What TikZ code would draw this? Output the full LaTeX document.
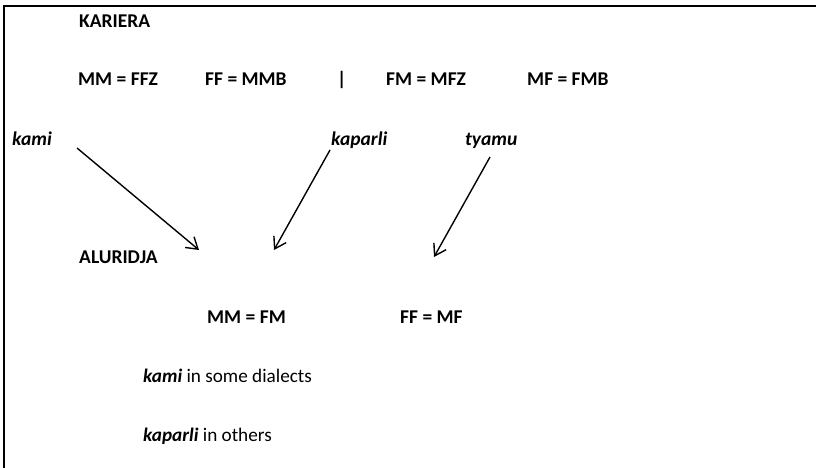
\documentclass[tikz,border=0pt]{standalone}
\usepackage{fontspec}
\setmainfont{Carlito}
\usetikzlibrary{arrows.meta}
\begin{document}
\begin{tikzpicture}[x=1pt,y=-1pt,
  lbl/.style={anchor=base west,inner sep=0pt,font=\fontsize{19.5}{22}\selectfont\bfseries},
  term/.style={anchor=base west,inner sep=0pt,font=\fontsize{19.5}{22}\selectfont\bfseries\itshape},
  note/.style={anchor=base west,inner sep=0pt,font=\fontsize{19.2}{22}\selectfont},
  arr/.style={line width=1.4pt,-{Straight Barb[length=11pt,width=14pt,line width=1.4pt]}}]
\useasboundingbox (0,0) rectangle (816,468);
% frame: top and left rules
\draw[line width=1.5pt] (816,6) -- (4,6) -- (4,468);

% Kariera equations
\node[lbl] (kariera) at (79,28) {KARIERA};
\node[lbl] (mmffz) at (78,86) {MM = FFZ};
\node[lbl] (ffmmb) at (205,86) {FF = MMB};
\node[lbl] (bar) at (337,86) {|};
\node[lbl] (fmmfz) at (386,86) {FM = MFZ};
\node[lbl] (mffmb) at (527,86) {MF = FMB};

% terms
\node[term] (kami) at (12,146) {kami};
\node[term] (kaparli) at (331,146) {kaparli};
\node[term] (tyamu) at (465,146) {tyamu};

% Aluridja equations
\node[lbl] (aluridja) at (79,263) {ALURIDJA};
\node[lbl] (mmfm) at (207,323) {MM = FM};
\node[lbl] (ffmf) at (400,323) {FF = MF};

% notes
\node[note] (note1) at (143,382) {\textbf{\textit{kami}} in some dialects};
\node[note] (note2) at (143,441) {\textbf{\textit{kaparli}} in others};

% arrow ends
\coordinate (kamiA) at (77,148);
\coordinate (kamiB) at (199,250);
\coordinate (kapA) at (330,150);
\coordinate (kapB) at (274,250);
\coordinate (tyaA) at (490,157);
\coordinate (tyaB) at (434,257);

\draw[arr] (kamiA) -- (kamiB);
\draw[arr] (kapA) -- (kapB);
\draw[arr] (tyaA) -- (tyaB);
\end{tikzpicture}
\end{document}
